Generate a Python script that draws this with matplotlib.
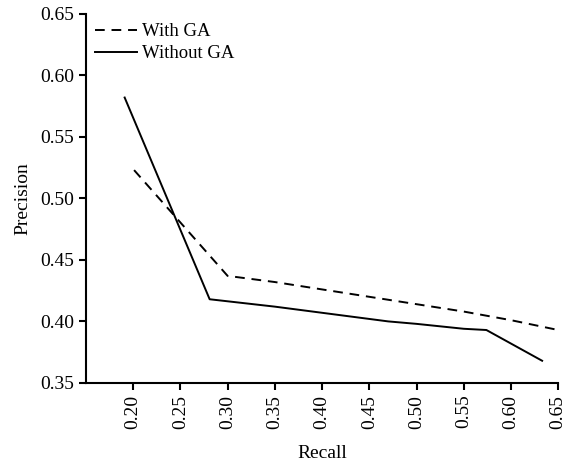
import matplotlib
matplotlib.use("Agg")
import matplotlib.pyplot as plt

plt.rcParams['font.family'] = ['Liberation Serif', 'DejaVu Serif']

recall_ga = [0.201, 0.30, 0.35, 0.40, 0.45, 0.50, 0.55, 0.60, 0.65]
prec_ga = [0.523, 0.437, 0.432, 0.426, 0.420, 0.414, 0.408, 0.401, 0.393]
recall_nga = [0.191, 0.281, 0.35, 0.40, 0.47, 0.50, 0.55, 0.574, 0.633]
prec_nga = [0.582, 0.418, 0.412, 0.407, 0.400, 0.398, 0.394, 0.393, 0.368]
xticks = [0.20, 0.25, 0.30, 0.35, 0.40, 0.45, 0.50, 0.55, 0.60, 0.65]
yticks = [0.35, 0.40, 0.45, 0.50, 0.55, 0.60, 0.65]

fig = plt.figure(figsize=(5.69, 4.63), dpi=100)
ax = fig.add_axes([0.151, 0.173, 0.830, 0.797])

ax.plot(recall_ga, prec_ga, 'k--', lw=1.4, dashes=(5, 3.5), label='With GA')
ax.plot(recall_nga, prec_nga, 'k-', lw=1.4, label='Without GA')

ax.set_xlim(0.15, 0.65)
ax.set_ylim(0.35, 0.65)
ax.set_xticks(xticks)
ax.set_xticklabels(['%.2f' % t for t in xticks], rotation=90)
ax.set_yticks(yticks)
ax.set_yticklabels(['%.2f' % t for t in yticks])
ax.tick_params(labelsize=14, width=1.5, length=5, direction='out')
ax.spines['top'].set_visible(False)
ax.spines['right'].set_visible(False)
ax.spines['left'].set_linewidth(1.5)
ax.spines['bottom'].set_linewidth(1.5)
ax.set_xlabel('Recall', fontsize=14, labelpad=12)
ax.set_ylabel('Precision', fontsize=14, labelpad=6)
ax.legend(loc='upper left', frameon=False, fontsize=13.5, handlelength=2.2,
          handletextpad=0.3, borderaxespad=0.1, labelspacing=0.25)

fig.savefig('out.png', dpi=100)
